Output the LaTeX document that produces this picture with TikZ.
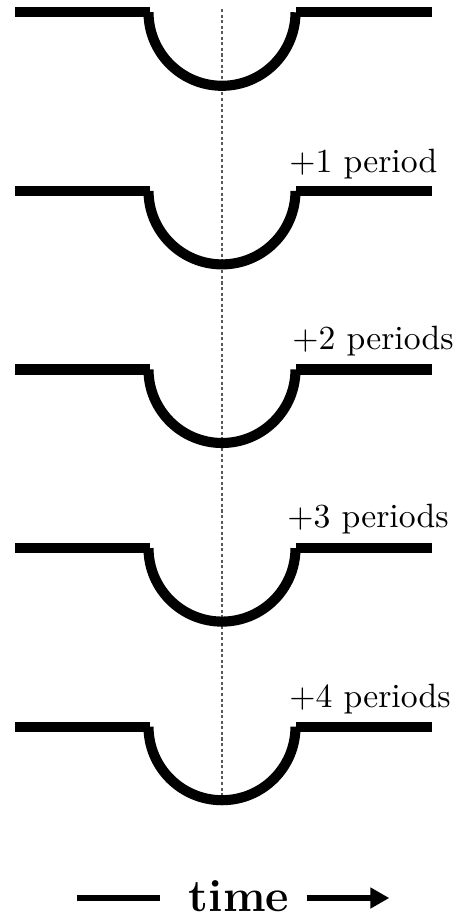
\documentclass[tikz,border=0pt]{standalone}
\usetikzlibrary{arrows.meta,positioning}

\begin{document}
\begin{tikzpicture}[x=0.2967pt,y=0.2967pt,
  curve/.style={line width=3pt},
  midline/.style={black!65,line width=0.4pt,dash pattern=on 0.9pt off 0.75pt},
  lbl/.style={anchor=base west,inner sep=0pt},
  ar/.style={-{Triangle[length=5.6pt,width=5.9pt]},line width=1.7pt}]
\useasboundingbox (0,0) rectangle (456,-917);
\draw[midline] (222,-9) -- (222,-795);
\foreach \i in {0,...,4}{
  \pgfmathsetmacro{\yy}{-12.3-178.6*\i}
  \draw[curve] (15,\yy) -- (150,\yy);
  \draw[curve] (148.5,\yy) arc[start angle=180,end angle=360,radius=73.5];
  \draw[curve] (296,\yy) -- (432,\yy);
}
\node[lbl] (p1) at (288.7,-172.6) {$+1$ period};
\node[lbl] (p2) at (291.7,-349.6) {$+2$ periods};
\node[lbl] (p3) at (286.7,-527.5) {$+3$ periods};
\node[lbl] (p4) at (288.7,-707.2) {$+4$ periods};
% time axis
\node[font=\fontsize{13.5}{16}\selectfont\bfseries,inner sep=0pt,anchor=base] (time) at (239,-911.7) {time};
\coordinate (tl) at (77,-898);
\coordinate (tr) at (389.3,-898);
\draw[line width=1.7pt] (tl) -- ([xshift=-8.3pt]time.west |- tl);
\draw[ar] ([xshift=5pt]time.east |- tr) -- (tr);
\end{tikzpicture}
\end{document}
